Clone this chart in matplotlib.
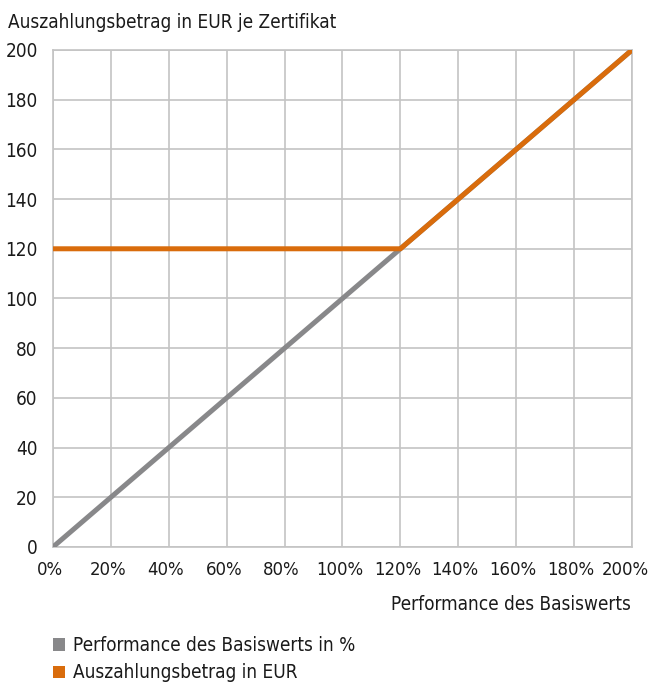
import matplotlib
matplotlib.use("Agg")
import matplotlib.pyplot as plt
import matplotlib.transforms as mtransforms
from matplotlib.patches import Patch

plt.rcParams['font.family'] = ['DejaVu Sans']
plt.rcParams['font.stretch'] = 'condensed'

perf_x = [0, 200]
perf_y = [0, 200]
pay_x = [0, 120, 200]
pay_y = [120, 120, 200]
xticks = [0, 20, 40, 60, 80, 100, 120, 140, 160, 180, 200]
xlabels = [f"{v}%" for v in xticks]
yticks = [0, 20, 40, 60, 80, 100, 120, 140, 160, 180, 200]
series_names = ["Performance des Basiswerts in %", "Auszahlungsbetrag in EUR"]
gray = "#88888a"
orange = "#d96c0c"
txt = "#1a1a1a"
fs = 13.6

fig = plt.figure(figsize=(6.51, 6.82), dpi=100)
ax = fig.add_axes([0.0814, 0.198, 0.8894, 0.7287])
ax.plot(perf_x, perf_y, color=gray, lw=3.6, solid_capstyle='round', zorder=3)
ax.plot(pay_x, pay_y, color=orange, lw=3.6, solid_capstyle='round', zorder=4)
ax.set_xlim(0, 200)
ax.set_ylim(0, 200)
ax.set_xticks(xticks)
ax.set_xticklabels(xlabels)
ax.set_yticks(yticks)
ax.grid(True, color="#c4c4c4", lw=1.2)
ax.set_axisbelow(True)
for s in ax.spines.values():
    s.set_color("#c4c4c4")
    s.set_linewidth(1.2)
ax.tick_params(length=0, labelsize=fs, colors=txt)
ax.tick_params(axis='x', pad=10, labelsize=13.2)
ax.tick_params(axis='y', pad=11)
labs = ax.get_xticklabels()
for i, lab in enumerate(labs):
    dx = -7 if i == len(labs) - 1 else -3
    off = mtransforms.ScaledTranslation(dx/100, 0, fig.dpi_scale_trans)
    lab.set_transform(lab.get_transform() + off)

fig.text(8/651, 1 - 23/682, "Auszahlungsbetrag in EUR je Zertifikat", fontsize=fs,
         color=txt, va='center', ha='left')
fig.text(631/651, 1 - 604/682, "Performance des Basiswerts", fontsize=fs,
         color=txt, va='center', ha='right')

handles = [Patch(facecolor=gray, edgecolor='none'), Patch(facecolor=orange, edgecolor='none')]
fig.legend(handles, series_names, loc='upper left', bbox_to_anchor=(53/651, 1 - 636/682),
           frameon=False, fontsize=fs, handlelength=0.65, handleheight=0.65,
           handletextpad=0.4, labelspacing=0.45, borderaxespad=0, borderpad=0,
           labelcolor=txt)

fig.savefig("out.png", dpi=100)
